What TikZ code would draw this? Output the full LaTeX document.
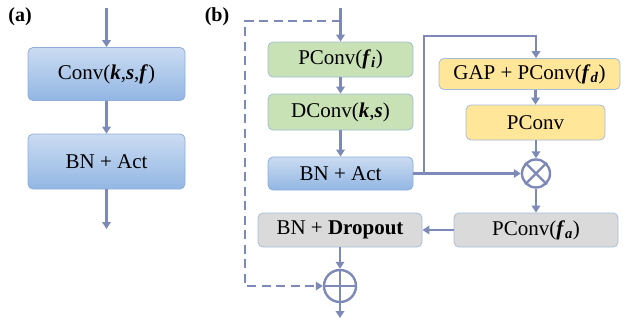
\documentclass[tikz,border=0pt]{standalone}
\usepackage{fontspec}
\setmainfont{LiberationSerif}[Extension=.ttf,UprightFont=*-Regular,BoldFont=*-Bold,
  ItalicFont=*-Italic,BoldItalicFont=*-BoldItalic]
\usetikzlibrary{arrows.meta}

\definecolor{linec}{RGB}{125,138,184}
\definecolor{bluetop}{RGB}{203,220,242}
\definecolor{bluebot}{RGB}{146,182,227}
\definecolor{blueedge}{RGB}{141,174,219}
\definecolor{greenc}{RGB}{200,226,182}
\definecolor{yellowc}{RGB}{255,230,153}
\definecolor{grayc}{RGB}{218,218,218}
\definecolor{softedge}{RGB}{165,187,218}

\newcommand{\bi}[1]{\textbf{\textit{#1}}}

\begin{document}
\begin{tikzpicture}[x=1pt,y=-1pt,
  box/.style={rounded corners=5pt,line width=0.8pt,draw=softedge,inner sep=0pt,
    font=\fontsize{21}{24}\selectfont},
  bluebox/.style={box,draw=blueedge,top color=bluetop,bottom color=bluebot},
  greenbox/.style={box,fill=greenc},
  yellowbox/.style={box,fill=yellowc},
  graybox/.style={box,fill=grayc},
  arr/.style={draw=linec,line width=2.4pt,-{Triangle[width=8.5pt,length=7pt]}},
  wire/.style={draw=linec,line width=2.4pt},
  skip/.style={arr,dash pattern=on 9pt off 5.5pt},
  junc/.style={circle,draw=linec,line width=2.4pt,inner sep=0pt}]
  \useasboundingbox (0,0) rectangle (631,324);

  % (a) plain conv block
  \node[font=\fontsize{20}{22}\selectfont\bfseries] (la) at (20,17) {(a)};
  \coordinate (ain) at (106.5,8);
  \node[bluebox,minimum width=157pt,minimum height=53pt] (conv) at (106.5,74) {Conv(\bi{k},\bi{s},\bi{f})};
  \node[bluebox,minimum width=157pt,minimum height=55pt] (act) at (106.5,161.5) {BN + Act};
  \coordinate (aout) at (106.5,229);
  \draw[arr] (ain) -- (conv.north);
  \draw[arr] (conv.south) -- (act.north);
  \draw[arr] (act.south) -- (aout);

  % (b) inverted bottleneck with attention
  \node[font=\fontsize{20}{22}\selectfont\bfseries] (lb) at (217,17) {(b)};
  \coordinate (bin) at (340.5,8);
  \coordinate (fork) at (340.5,21);
  \node[greenbox,minimum width=145pt,minimum height=35pt] (pw) at (340.5,59.5) {PConv(\bi{f}\textsubscript{\bi{i}})};
  \node[greenbox,minimum width=145pt,minimum height=36pt] (dw) at (340.5,112) {DConv(\bi{k},\bi{s})};
  \node[bluebox,minimum width=145pt,minimum height=33pt] (bn) at (340.5,173.5) {BN + Act};
  \node[yellowbox,minimum width=181pt,minimum height=31pt] (gap) at (529.5,74) {GAP + PConv(\bi{f}\textsubscript{\bi{d}})};
  \node[yellowbox,minimum width=139pt,minimum height=35pt] (pc) at (535.5,122.5) {PConv};
  \node[junc,minimum size=28pt] (mul) at (536,173.5) {};
  \node[graybox,minimum width=164pt,minimum height=34pt] (pa) at (536,230) {PConv(\bi{f}\textsubscript{\bi{a}})};
  \node[graybox,minimum width=164pt,minimum height=34pt] (drop) at (340,230) {BN + \textbf{Dropout}};
  \node[junc,minimum size=32pt] (add) at (340,286) {};
  \coordinate (bout) at (340,318);
  \coordinate (tap) at (424,173.5);
  \coordinate (ttop) at (536,36);
  \coordinate (sleft) at (245,21);

  \draw[wire] (mul.north east) -- (mul.south west);
  \draw[wire] (mul.north west) -- (mul.south east);
  \draw[wire] (add.north) -- (add.south);
  \draw[wire] (add.west) -- (add.east);

  \draw[arr] (bin) -- (pw.north);
  \draw[arr] (pw.south) -- (dw.north);
  \draw[arr] (dw.south) -- (bn.north);
  \draw[arr] (bn.east) -- (mul.west);
  \draw[arr] (tap) |- (ttop) -- (ttop |- gap.north);
  \draw[arr] (gap.south -| pc) -- (pc.north);
  \draw[arr] (pc.south -| mul) -- (mul.north);
  \draw[arr] (mul.south) -- (pa.north);
  \draw[arr] (pa.west) -- (drop.east);
  \draw[arr] (drop.south) -- (add.north);
  \draw[arr] (add.south) -- (bout);
  \draw[skip] (fork) -- (sleft) |- (add.west);
\end{tikzpicture}
\end{document}
